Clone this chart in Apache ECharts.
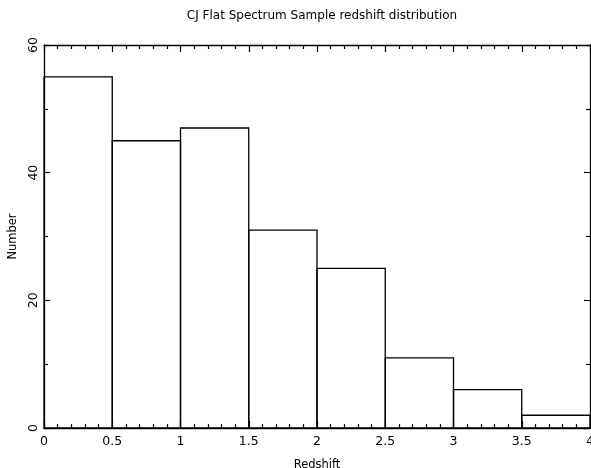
<!DOCTYPE html>
<html>
<head>
<meta charset="utf-8">
<script src="https://cdn.jsdelivr.net/npm/echarts@6/dist/echarts.min.js"></script>
<style>html,body{margin:0;padding:0;background:#fff}#c{width:591px;height:468px}</style>
</head>
<body>
<div id="c"></div>
<script>
var binStarts = [0, 0.5, 1, 1.5, 2, 2.5, 3, 3.5];
var binWidth = 0.5;
var counts = [55, 45, 47, 31, 25, 11, 6, 2];
var titleText = 'CJ Flat Spectrum Sample redshift distribution';
var xName = 'Redshift';
var yName = 'Number';

var data = binStarts.map(function (s, i) { return [s, s + binWidth, counts[i]]; });
var font = 'DejaVu Sans';
var chart = echarts.init(document.getElementById('c'));
var axisLine = { show: true, onZero: false, lineStyle: { color: '#000', width: 1.3 } };
chart.setOption({
  animation: false,
  title: { text: titleText, left: 317, textAlign: 'center', top: 5, textStyle: { fontFamily: font, fontSize: 12, fontWeight: 'normal', color: '#000' } },
  grid: { left: 44, top: 45, right: 1, bottom: 40, outerBoundsMode: 'none', containLabel: false },
  xAxis: [{
    type: 'value', min: 0, max: 4, interval: 0.5, position: 'bottom',
    name: xName, nameLocation: 'middle', nameGap: 31,
    nameTextStyle: { fontFamily: font, fontSize: 11.5, color: '#000' },
    axisLine: axisLine,
    axisTick: { show: true, inside: true, length: 7, lineStyle: { color: '#000', width: 1.2 } },
    minorTick: { show: true, splitNumber: 5, length: 4, lineStyle: { color: '#000', width: 1.2 } },
    axisLabel: { fontFamily: font, fontSize: 12.5, color: '#000', margin: 7 },
    splitLine: { show: false }
  }, {
    type: 'value', min: 0, max: 4, interval: 0.5, position: 'top',
    axisLine: axisLine,
    axisTick: { show: true, inside: true, length: 7, lineStyle: { color: '#000', width: 1.2 } },
    minorTick: { show: true, splitNumber: 5, length: 4, lineStyle: { color: '#000', width: 1.2 } },
    axisLabel: { show: false }, splitLine: { show: false }
  }],
  yAxis: [{
    type: 'value', min: 0, max: 60, interval: 20, position: 'left',
    name: yName, nameLocation: 'middle', nameGap: 19, nameRotate: 90,
    nameTextStyle: { fontFamily: font, fontSize: 11.5, color: '#000' },
    axisLine: axisLine,
    axisTick: { show: true, inside: true, length: 6, lineStyle: { color: '#000', width: 1.2 } },
    minorTick: { show: true, splitNumber: 2, length: 4, lineStyle: { color: '#000', width: 1.2 } },
    axisLabel: { fontFamily: font, fontSize: 12.5, color: '#000', rotate: 90, margin: 4, align: 'center', verticalAlign: 'bottom' },
    splitLine: { show: false }
  }, {
    type: 'value', min: 0, max: 60, interval: 20, position: 'right',
    axisLine: axisLine,
    axisTick: { show: true, inside: true, length: 6, lineStyle: { color: '#000', width: 1.2 } },
    minorTick: { show: true, splitNumber: 2, length: 4, lineStyle: { color: '#000', width: 1.2 } },
    axisLabel: { show: false }, splitLine: { show: false }
  }],
  series: [{
    type: 'custom',
    xAxisIndex: 0, yAxisIndex: 0,
    data: data,
    encode: { x: [0, 1], y: 2 },
    renderItem: function (params, api) {
      var p0 = api.coord([api.value(0), api.value(2)]);
      var p1 = api.coord([api.value(1), 0]);
      return {
        type: 'rect',
        shape: { x: p0[0], y: p0[1], width: p1[0] - p0[0], height: p1[1] - p0[1] },
        style: { fill: 'none', stroke: '#000', lineWidth: 1.3 }
      };
    }
  }]
});
</script>
</body>
</html>
